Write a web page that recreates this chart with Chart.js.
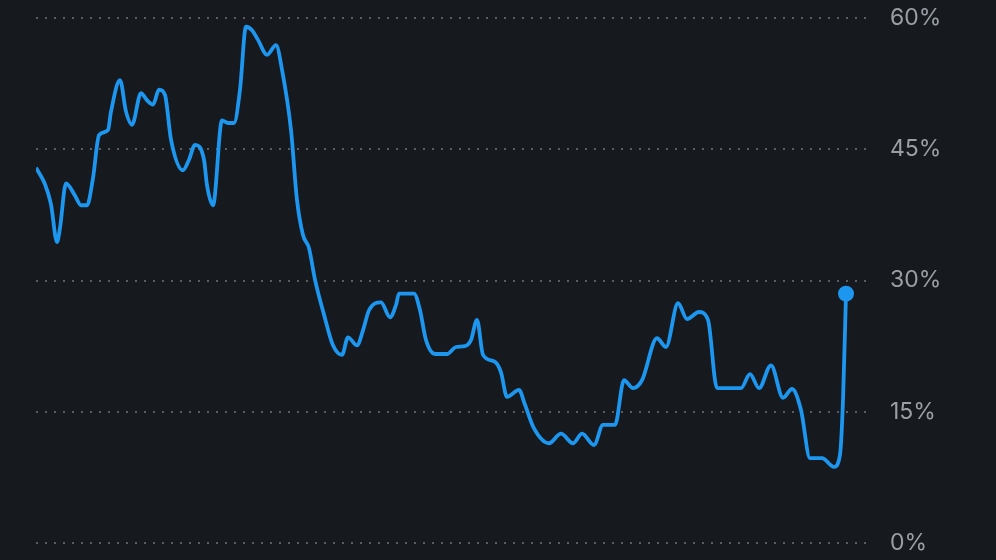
<!DOCTYPE html>
<html>
<head>
<meta charset="utf-8">
<script src="https://cdn.jsdelivr.net/npm/chart.js@4/dist/chart.umd.min.js"></script>
<style>
  html, body { margin: 0; padding: 0; background: #16191d; }
  #wrap { width: 996px; height: 560px; }
</style>
</head>
<body>
<div id="wrap"><canvas id="rate-chart"></canvas></div>
<script>
// week index along the period, and the rate (%) at that week
const weeks = [
  0, 3, 5, 7, 8, 10, 13, 15, 17, 19, 21, 24, 25, 28, 30, 32, 35, 37, 39, 41,
  43, 45, 49, 51, 53, 56, 57, 59, 62, 64, 66, 68, 70, 72, 74, 77, 80, 82, 85, 87,
  89, 91, 93, 96, 99, 102, 104, 107, 109, 111, 115, 118, 120, 121, 126, 128, 130, 133, 137, 140,
  143, 145, 147, 149, 153, 155, 157, 161, 163, 166, 171, 175, 179, 182, 186, 189, 193, 196, 199, 202,
  207, 210, 214, 217, 221, 224, 227, 235, 238, 241, 245, 249, 252, 255, 258, 262, 266, 268, 269, 270
];
const rates = [
  42.9, 41.0, 38.7, 34.4, 36.0, 41.1, 39.7, 38.6, 38.6, 41.7, 46.6, 47.2, 49.3, 52.9, 49.3, 47.8, 51.4, 50.6, 50.1, 51.8,
  51.2, 46.1, 42.6, 43.8, 45.5, 43.8, 40.9, 38.6, 48.3, 48.0, 48.0, 51.8, 59.0, 58.6, 57.5, 55.8, 56.9, 54.1, 47.2, 39.2,
  35.2, 33.7, 30.1, 26.1, 22.6, 21.5, 23.5, 22.6, 24.3, 26.6, 27.5, 25.8, 27.2, 28.5, 28.5, 26.6, 23.2, 21.6, 21.6, 22.4,
  22.5, 23.2, 25.5, 21.5, 20.7, 19.5, 16.7, 17.5, 15.8, 13.1, 11.4, 12.5, 11.4, 12.5, 11.2, 13.5, 13.5, 18.6, 17.7, 18.6,
  23.4, 22.4, 27.4, 25.6, 26.4, 25.5, 17.7, 17.7, 19.3, 17.7, 20.3, 16.6, 17.6, 15.2, 9.7, 9.7, 8.7, 10.1, 16.3, 28.5
];
const yTicks = [0, 15, 30, 45, 60];

const lineColor = "#1d96ef";
const lastIndex = rates.length - 1;

const points = weeks.map((week, i) => ({ x: week, y: rates[i] }));

new Chart(document.getElementById("rate-chart"), {
  type: "line",
  data: {
    datasets: [
      {
        data: points,
        borderColor: lineColor,
        backgroundColor: lineColor,
        borderWidth: 3.8,
        cubicInterpolationMode: "monotone",
        pointRadius: (ctx) => (ctx.dataIndex === lastIndex ? 8 : 0),
        pointBorderWidth: 0,
        pointHoverRadius: 0,
      },
    ],
  },
  options: {
    responsive: true,
    maintainAspectRatio: false,
    animation: false,
    layout: { padding: { left: 36, top: 18, bottom: 17, right: 0 } },
    plugins: { legend: { display: false }, tooltip: { enabled: false } },
    scales: {
      x: {
        type: "linear",
        display: false,
        min: 0,
        max: 278,
      },
      y: {
        position: "right",
        min: 0,
        max: 60,
        afterBuildTicks: (scale) => {
          scale.ticks = yTicks.map((v) => ({ value: v }));
        },
        afterFit: (scale) => {
          scale.width = 126;
          scale.paddingTop = 0;
          scale.paddingBottom = 0;
        },
        border: { display: false, dash: [2, 7] },
        grid: {
          color: "#5a5e64",
          lineWidth: 2,
          drawTicks: false,
        },
        ticks: {
          padding: 20,
          color: "#9a9fa6",
          font: { family: "Inter, 'Liberation Sans', sans-serif", size: 23 },
          callback: (value) => value + "%",
        },
      },
    },
  },
});
</script>
</body>
</html>
